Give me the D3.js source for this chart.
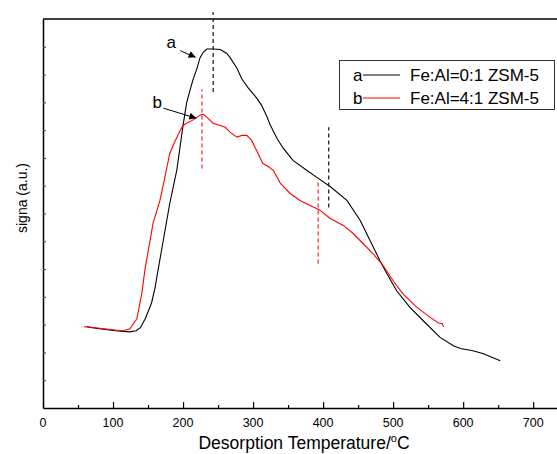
<!DOCTYPE html>
<html>
<head>
<meta charset="utf-8">
<script src="https://cdn.jsdelivr.net/npm/d3@7"></script>
<style>
  body { margin: 0; background: #fff; }
  text { font-family: "Liberation Sans", Arial, sans-serif; }
</style>
</head>
<body>
<svg width="557" height="454"></svg>
<script>
// curve a : Fe:Al=0:1 ZSM-5
const tempA = [63, 81, 103, 124, 133, 139, 146, 155, 160, 163, 171, 181, 191, 196, 200, 205, 210, 214, 220, 224, 229, 234, 243, 253, 262, 267, 277, 284, 293, 305, 312, 320, 324, 334, 343, 357, 377, 391, 410, 434, 453, 467, 481, 491, 505, 524, 543, 567, 586, 596, 614, 629, 653];
const sigA = [2.92, 2.85, 2.78, 2.74, 2.78, 2.89, 3.21, 3.78, 4.32, 4.78, 5.92, 7.36, 8.55, 9.45, 10.17, 10.97, 11.44, 11.80, 12.23, 12.59, 12.81, 12.92, 12.92, 12.90, 12.77, 12.62, 12.23, 11.84, 11.52, 11.16, 10.90, 10.47, 10.21, 9.71, 9.35, 8.91, 8.55, 8.30, 7.97, 7.47, 6.75, 6.03, 5.31, 4.84, 4.22, 3.62, 3.14, 2.54, 2.24, 2.14, 2.06, 1.95, 1.70];

// curve b : Fe:Al=4:1 ZSM-5
const tempB = [59, 81, 103, 115, 124, 134, 141, 146, 153, 157, 167, 174, 181, 189, 196, 200, 205, 214, 224, 229, 234, 243, 253, 260, 267, 277, 284, 291, 298, 305, 314, 321, 329, 339, 353, 367, 386, 396, 410, 429, 443, 457, 471, 486, 500, 514, 534, 553, 564, 570, 572];
const sigB = [2.93, 2.87, 2.81, 2.78, 2.85, 3.21, 4.11, 5.05, 6.03, 6.64, 7.47, 8.30, 9.16, 9.63, 10.0, 10.17, 10.25, 10.36, 10.54, 10.57, 10.47, 10.25, 10.17, 10.11, 9.93, 9.75, 9.81, 9.81, 9.63, 9.27, 8.80, 8.70, 8.55, 8.08, 7.72, 7.47, 7.23, 7.11, 6.82, 6.57, 6.28, 5.92, 5.56, 5.12, 4.58, 4.11, 3.62, 3.26, 3.07, 3.03, 2.92];

// dashed guide lines: [temperature, from, to]
const guidesA = [[243, 11.37, 14.25], [408, 7.22, 10.10]];
const guidesB = [[227, 8.62, 11.47], [393, 5.20, 8.12]];

const xTicks = [0, 100, 200, 300, 400, 500, 600, 700];
const legendLabels = ["Fe:Al=0:1 ZSM-5", "Fe:Al=4:1 ZSM-5"];
const seriesKeys = ["a", "b"];

const svg = d3.select("svg");
const plotL = 43, plotT = 19, plotB = 408, plotR = 557;

const x = d3.scaleLinear().domain([0, 734]).range([plotL, plotR]);
const y = d3.scaleLinear().domain([0, 14]).range([plotB, plotT]);

// frame
svg.append("line").attr("x1", plotL).attr("x2", plotR).attr("y1", plotT).attr("y2", plotT)
    .attr("stroke", "#000").attr("stroke-width", 1.5);

// x axis, ticks pointing inward
const xAxis = svg.append("g")
    .attr("transform", "translate(0," + plotB + ")")
    .call(d3.axisBottom(x).tickValues(d3.range(0, 751, 50)).tickSize(0).tickFormat(""));
xAxis.select(".domain").attr("stroke-width", 1.5);
xAxis.selectAll(".tick line")
    .attr("y2", d => d % 100 === 0 ? -6 : -3)
    .attr("stroke-width", 1.2);
svg.append("g").selectAll("text")
    .data(xTicks)
    .enter()
    .append("text")
    .attr("x", d => x(d))
    .attr("y", 427)
    .attr("text-anchor", "middle")
    .attr("font-size", 12.5)
    .text(d => d);

// y axis with small inward ticks, no labels
const yAxis = svg.append("g")
    .attr("transform", "translate(" + plotL + ",0)")
    .call(d3.axisLeft(y).tickValues(d3.range(1, 14)).tickSize(0).tickFormat(""));
yAxis.select(".domain").attr("stroke-width", 1.5);
yAxis.selectAll(".tick line").attr("x2", 3).attr("stroke", "#444");

// axis titles
const xt = svg.append("text")
    .attr("x", 304).attr("y", 449)
    .attr("text-anchor", "middle")
    .attr("font-size", 17.5);
xt.append("tspan").text("Desorption Temperature/");
xt.append("tspan").attr("font-size", 11).attr("dy", -7).text("o");
xt.append("tspan").attr("dy", 7).text("C");

svg.append("text")
    .attr("transform", "translate(27,198) rotate(-90)")
    .attr("text-anchor", "middle")
    .attr("font-size", 14)
    .text("signa (a.u.)");

// curves
const line = d3.line().x(d => x(d[0])).y(d => y(d[1]));
svg.append("path")
    .datum(d3.zip(tempA, sigA))
    .attr("d", line)
    .attr("fill", "none").attr("stroke", "#000").attr("stroke-width", 1.1);
svg.append("path")
    .datum(d3.zip(tempB, sigB))
    .attr("d", line)
    .attr("fill", "none").attr("stroke", "#ff0000").attr("stroke-width", 1.1);

// dashed guides
svg.append("g").selectAll("line")
    .data(guidesA)
    .enter()
    .append("line")
    .attr("x1", d => x(d[0])).attr("x2", d => x(d[0]))
    .attr("y1", d => y(d[1])).attr("y2", d => y(d[2]))
    .attr("stroke", "#222").attr("stroke-width", 1.3)
    .attr("stroke-dasharray", "4,3");
svg.append("g").selectAll("line")
    .data(guidesB)
    .enter()
    .append("line")
    .attr("x1", d => x(d[0])).attr("x2", d => x(d[0]))
    .attr("y1", d => y(d[1])).attr("y2", d => y(d[2]))
    .attr("stroke", "#ff3333").attr("stroke-width", 1.3)
    .attr("stroke-dasharray", "4,3");

// arrow annotations
svg.append("defs").append("marker")
    .attr("id", "arr")
    .attr("viewBox", "0 0 10 10")
    .attr("refX", 10).attr("refY", 5)
    .attr("markerWidth", 9).attr("markerHeight", 7)
    .attr("markerUnits", "userSpaceOnUse")
    .attr("orient", "auto")
    .append("path").attr("d", "M0,0L10,5L0,10Z").attr("fill", "#000");

const notes = [
    {label: "a", tx: 183, ty: 48, from: [196, 12.86], to: [218, 12.62]},
    {label: "b", tx: 163, ty: 108, from: [172, 10.79], to: [219, 10.43]}
];
notes.forEach(n => {
    svg.append("text")
        .attr("x", x(n.tx)).attr("y", n.ty)
        .attr("text-anchor", "middle")
        .attr("font-size", 17)
        .text(n.label);
    svg.append("line")
        .attr("x1", x(n.from[0])).attr("y1", y(n.from[1]))
        .attr("x2", x(n.to[0])).attr("y2", y(n.to[1]))
        .attr("stroke", "#000").attr("stroke-width", 1)
        .attr("marker-end", "url(#arr)");
});

// legend
const lg = svg.append("g");
lg.append("rect")
    .attr("x", 339.5).attr("y", 60.5).attr("width", 215).attr("height", 49)
    .attr("fill", "#fff").attr("stroke", "#333").attr("stroke-width", 1);
const colors = ["#000", "#ff0000"];
const rowY = [75, 98];
seriesKeys.forEach((k, i) => {
    lg.append("text").attr("x", 353).attr("y", rowY[i] + 6).attr("font-size", 17).text(k);
    lg.append("line")
        .attr("x1", 363).attr("x2", 400).attr("y1", rowY[i]).attr("y2", rowY[i])
        .attr("stroke", colors[i]).attr("stroke-width", 1.1);
    lg.append("text").attr("x", 410).attr("y", rowY[i] + 6).attr("font-size", 17).text(legendLabels[i]);
});
</script>
</body>
</html>
